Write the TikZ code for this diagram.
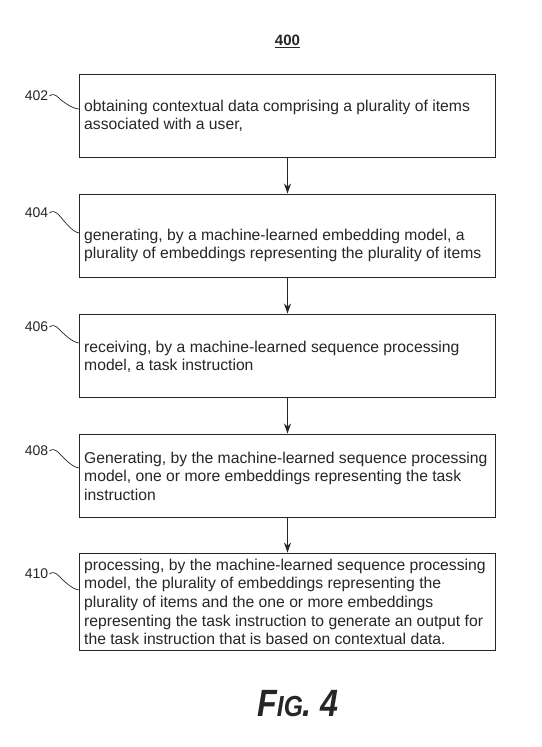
\documentclass[tikz,border=0pt]{standalone}
\usepackage{fontspec}
\setmainfont{Liberation Sans}
\usetikzlibrary{arrows.meta,calc}
\definecolor{ink}{HTML}{262626}
\tikzset{
  box/.style={draw=ink, line width=0.9pt, inner sep=0pt, fill=none},
  boxtext/.style={anchor=base west, inner sep=0pt, text=ink, font=\fontsize{15.7}{18.7}\selectfont},
  reflabel/.style={inner sep=0pt, text=ink, font=\fontsize{14}{16}\selectfont},
  leader/.style={draw=ink, line width=0.7pt},
  flow/.style={draw=ink, line width=0.9pt, -{Stealth[length=10pt,width=7pt]}}
}
\newcommand{\mylines}[1]{\begin{tabular}[t]{@{}l@{}}#1\end{tabular}}
\begin{document}
\begin{tikzpicture}[x=1pt,y=-1pt]
\useasboundingbox[fill=white] (0,0) rectangle (541,747);
% title
\node[inner sep=0pt, text=ink, font=\fontsize{15}{17}\selectfont\bfseries] (title) at (287.5,41) {\underline{400}};
% boxes
\node[box, minimum width=416pt, minimum height=83pt] (b402) at (287.5,115.5) {};
\node[box, minimum width=416pt, minimum height=83pt] (b404) at (287.5,235.5) {};
\node[box, minimum width=416pt, minimum height=83pt] (b406) at (287.5,355.5) {};
\node[box, minimum width=416pt, minimum height=83pt] (b408) at (287.5,475.5) {};
\node[box, minimum width=416pt, minimum height=97pt] (b410) at (287.5,601.5) {};
% box texts
\node[boxtext] (t402) at (84,111) {\mylines{obtaining contextual data comprising a plurality of items\\associated with a user,}};
\node[boxtext] (t404) at (84,240) {\mylines{generating, by a machine-learned embedding model, a\\plurality of embeddings representing the plurality of items}};
\node[boxtext] (t406) at (84,352) {\mylines{receiving, by a machine-learned sequence processing\\model, a task instruction}};
\node[boxtext] (t408) at (84,463) {\mylines{Generating, by the machine-learned sequence processing\\model, one or more embeddings representing the task\\instruction}};
\node[boxtext] (t410) at (84,570) {\mylines{processing, by the machine-learned sequence processing\\model, the plurality of embeddings representing the\\plurality of items and the one or more embeddings\\representing the task instruction to generate an output for\\the task instruction that is based on contextual data.}};
% arrows
\draw[flow] (b402.south) -- (b404.north);
\draw[flow] (b404.south) -- (b406.north);
\draw[flow] (b406.south) -- (b408.north);
\draw[flow] (b408.south) -- (b410.north);
% reference labels with leaders
\foreach \n/\ly/\ey in {402/96/109, 404/213/233, 406/327/343, 408/451/468, 410/574/590}{
  \node[reflabel] (l\n) at (36.5,\ly) {\n};
  \coordinate (e\n) at (79.5,\ey);
  \coordinate (m\n) at ($(l\n.east)+(10,1.5)$);
  \draw[leader] ($(l\n.east)+(1,0)$) .. controls +(3,-2.5) and +(-3,-3) .. (m\n)
     .. controls +(4,4) and +(-7,0) .. (e\n);
}
% figure caption
\node[anchor=base, inner sep=0pt, text=ink, font=\bfseries\itshape] (fig) at (298,716)
  {\scalebox{0.85}[1]{\fontsize{38}{40}\selectfont F\fontsize{29}{31}\selectfont IG\fontsize{38}{40}\selectfont. 4}};
\end{tikzpicture}
\end{document}
